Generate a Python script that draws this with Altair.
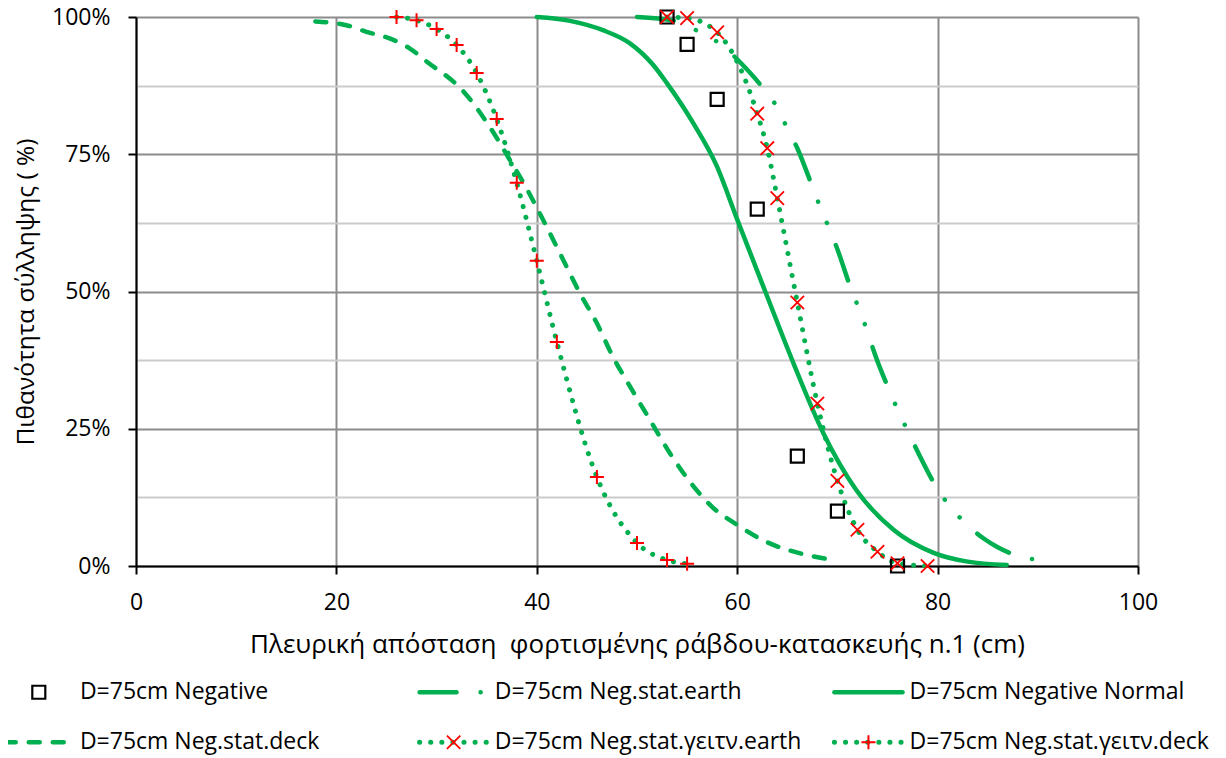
import altair as alt
import pandas as pd

GREEN = "#00B050"
FONT = "Open Sans"

# ---------------- data ----------------
names = [
    "D=75cm Negative",
    "D=75cm Neg.stat.earth",
    "D=75cm Negative Normal",
    "D=75cm Neg.stat.deck",
    "D=75cm Neg.stat.γειτν.earth",
    "D=75cm Neg.stat.γειτν.deck",
]

neg_x = [53, 55, 58, 62, 66, 70, 76]
neg_y = [100, 95, 85, 65, 20, 10, 0]

earth_x = [50, 53.7, 56.2, 58.8, 60.0, 62.6, 64.0, 65.0, 66.0, 67.5, 68.3, 69.2, 70.0, 71.3,
           72.2, 73.0, 73.7, 75.2, 76.1, 77.1, 78.1, 80.0, 81.3, 82.9, 84.6, 86.0, 88.3, 90.6]
earth_y = [100, 99.3, 97.3, 94.4, 92.3, 87.0, 83.5, 79.7, 76.1, 69.1, 65.3, 61.4, 57.7, 50.8,
           46.6, 42.7, 38.8, 31.9, 28.1, 24.3, 20.5, 14.0, 10.7, 7.6, 5.0, 3.4, 1.7, 1.0]

normal_x = [40, 43.3, 46.6, 49.3, 51.6, 53.0, 55.6, 58.0, 59.9, 62.8, 65.6, 68.6, 71.9, 75.6, 79.6, 83.0, 86.9]
normal_y = [100, 99.3, 97.6, 95.2, 91.3, 87.9, 80.7, 72.7, 63.6, 50.0, 37.0, 24.2, 13.8, 6.6, 2.4, 0.8, 0.2]

deck_x = [17.9, 21.0, 23.0, 25.3, 27.3, 29.0, 32.7, 35.3, 37.3, 38.7, 40.3, 42.3, 44.3, 46.0,
          47.6, 49.3, 51.3, 53.3, 55.6, 57.6, 59.9, 62.9, 66.3, 69.9]
deck_y = [99.2, 98.5, 97.3, 96.1, 94.3, 91.9, 86.4, 80.0, 74.0, 69.7, 64.2, 57.0, 49.7, 44.2,
          38.1, 32.7, 26.6, 20.5, 14.6, 10.6, 7.6, 4.4, 2.3, 1.0]

g_earth_x = [53, 55, 58, 62, 63, 64, 66, 68, 70, 72, 74, 76, 79]
g_earth_y = [100, 99.8, 97.2, 82.4, 76.1, 67.0, 48.0, 29.6, 15.5, 6.6, 2.6, 0.5, 0.0]

g_deck_x = [26, 28, 30, 32, 34, 36, 38, 40, 42, 46, 50, 53, 55]
g_deck_y = [100, 99.4, 97.8, 94.9, 89.8, 81.4, 69.8, 55.6, 40.8, 16.2, 4.2, 1.1, 0.4]

x_ticks = [0, 20, 40, 60, 80, 100]
y_ticks = [0, 12.5, 25, 37.5, 50, 62.5, 75, 87.5, 100]

X_TITLE = "Πλευρική απόσταση\u00a0 φορτισμένης ράβδου-κατασκευής n.1 (cm)"
Y_TITLE = "Πιθανότητα σύλληψης ( %)"

# legend layout (column / row of each entry)
leg_col = [0, 1, 2, 0, 1, 2]
leg_row = [0, 0, 0, 1, 1, 1]
LEG_TEXT_X0 = -5.6     # x-units where first legend text column starts
LEG_COL_STEP = 41.4    # x-units between legend columns
LEG_ROW_Y0 = -23.0     # y-units of first legend row
LEG_ROW_STEP = -9.1
SAMPLE_LEN = 6.8
SAMPLE_GAP = 0.7


def df(xs, ys):
    return pd.DataFrame({"x": xs, "y": ys})


def leg_pos(i):
    tx = LEG_TEXT_X0 + leg_col[i] * LEG_COL_STEP
    ty = LEG_ROW_Y0 + leg_row[i] * LEG_ROW_STEP
    return tx, ty


def leg_sample(i):
    tx, ty = leg_pos(i)
    return df([tx - SAMPLE_GAP - SAMPLE_LEN, tx - SAMPLE_GAP], [ty, ty])


def leg_marker(i):
    tx, ty = leg_pos(i)
    return df([tx - SAMPLE_GAP - SAMPLE_LEN / 2], [ty])


# ---------------- encodings ----------------
x_enc = alt.X(
    "x:Q",
    scale=alt.Scale(domain=[0, 100], nice=False, zero=False),
    axis=alt.Axis(
        values=x_ticks, format="d", grid=True, gridColor="#8c8c8c", gridWidth=2,
        domainColor="black", domainWidth=2, tickColor="black", tickWidth=2, tickSize=8,
        labelFont=FONT, labelFontSize=23, labelColor="black", labelPadding=17,
        labelFlush=False, labelOverlap=False,
        titleFont=FONT, titleFontSize=26, titleFontWeight="normal", titleColor="black",
        titleY=86, titleBaseline="alphabetic",
    ),
    title=X_TITLE,
)

y_enc = alt.Y(
    "y:Q",
    scale=alt.Scale(domain=[0, 100], nice=False, zero=False),
    axis=alt.Axis(
        values=y_ticks, grid=True,
        gridColor={"condition": {"test": "datum.value % 25 != 0", "value": "#cccccc"}, "value": "#8c8c8c"},
        gridWidth=2,
        tickOpacity={"condition": {"test": "datum.value % 25 != 0", "value": 0}, "value": 1},
        labelExpr="datum.value % 25 == 0 ? datum.value + '%' : ''",
        domainColor="black", domainWidth=2, tickColor="black", tickWidth=2, tickSize=8,
        labelFont=FONT, labelFontSize=23, labelColor="black", labelPadding=18,
        labelFlush=False, labelOverlap=False,
        titleFont=FONT, titleFontSize=24.5, titleFontWeight="normal", titleColor="black",
        titleX=-103, titleBaseline="alphabetic",
    ),
    title=Y_TITLE,
)

line_kw = dict(color=GREEN, strokeWidth=4.5, strokeCap="round", interpolate="monotone")
styles = {
    1: dict(strokeDash=[37, 24, 0.1, 23, 0.1, 24]),
    2: dict(),
    3: dict(strokeDash=[11, 13]),
    4: dict(strokeDash=[0.1, 11], strokeWidth=5),
    5: dict(strokeDash=[0.1, 11], strokeWidth=5),
}
series_data = {1: df(earth_x, earth_y), 2: df(normal_x, normal_y), 3: df(deck_x, deck_y),
               4: df(g_earth_x, g_earth_y), 5: df(g_deck_x, g_deck_y)}

square_kw = dict(shape="square", size=169, filled=False, color="black", strokeWidth=2.2, opacity=1)
xmark_kw = dict(shape="M-1,-1L1,1M1,-1L-1,1", size=180, filled=False, color="#FF0000", strokeWidth=1.8, opacity=1)
plus_kw = dict(shape="M-1,0L1,0M0,-1L0,1", size=196, filled=False, color="#FF0000", strokeWidth=2, opacity=1)

layers = []
for i in [3, 5, 2, 1, 4]:
    kw = dict(line_kw)
    kw.update(styles[i])
    layers.append(alt.Chart(series_data[i]).mark_line(**kw).encode(x=x_enc, y=y_enc))

layers.append(alt.Chart(df(neg_x, neg_y)).mark_point(**square_kw).encode(x=x_enc, y=y_enc))
layers.append(alt.Chart(df(g_earth_x, g_earth_y)).mark_point(**xmark_kw).encode(x=x_enc, y=y_enc))
layers.append(alt.Chart(df(g_deck_x, g_deck_y)).mark_point(**plus_kw).encode(x=x_enc, y=y_enc))

# legend: line samples, markers and labels
for i in [1, 2, 3, 4, 5]:
    kw = dict(line_kw)
    kw.update(styles[i])
    kw["interpolate"] = "linear"
    layers.append(alt.Chart(leg_sample(i)).mark_line(**kw).encode(x=x_enc, y=y_enc))
layers.append(alt.Chart(leg_marker(0)).mark_point(**square_kw).encode(x=x_enc, y=y_enc))
layers.append(alt.Chart(leg_marker(4)).mark_point(**xmark_kw).encode(x=x_enc, y=y_enc))
layers.append(alt.Chart(leg_marker(5)).mark_point(**plus_kw).encode(x=x_enc, y=y_enc))

leg_text = pd.DataFrame({
    "x": [leg_pos(i)[0] for i in range(6)],
    "y": [leg_pos(i)[1] for i in range(6)],
    "label": names,
})
layers.append(
    alt.Chart(leg_text).mark_text(align="left", baseline="middle", font=FONT, fontSize=23, color="black")
    .encode(x=x_enc, y=y_enc, text="label:N")
)

chart = alt.layer(*layers).properties(
    width=1002,
    height=549,
    autosize=alt.AutoSizeParams(type="none"),
    padding={"left": 128, "top": 9, "right": 80, "bottom": 190},
).configure_view(stroke=None)

chart.save("out.html", embed_options={"renderer": "svg", "actions": False})
